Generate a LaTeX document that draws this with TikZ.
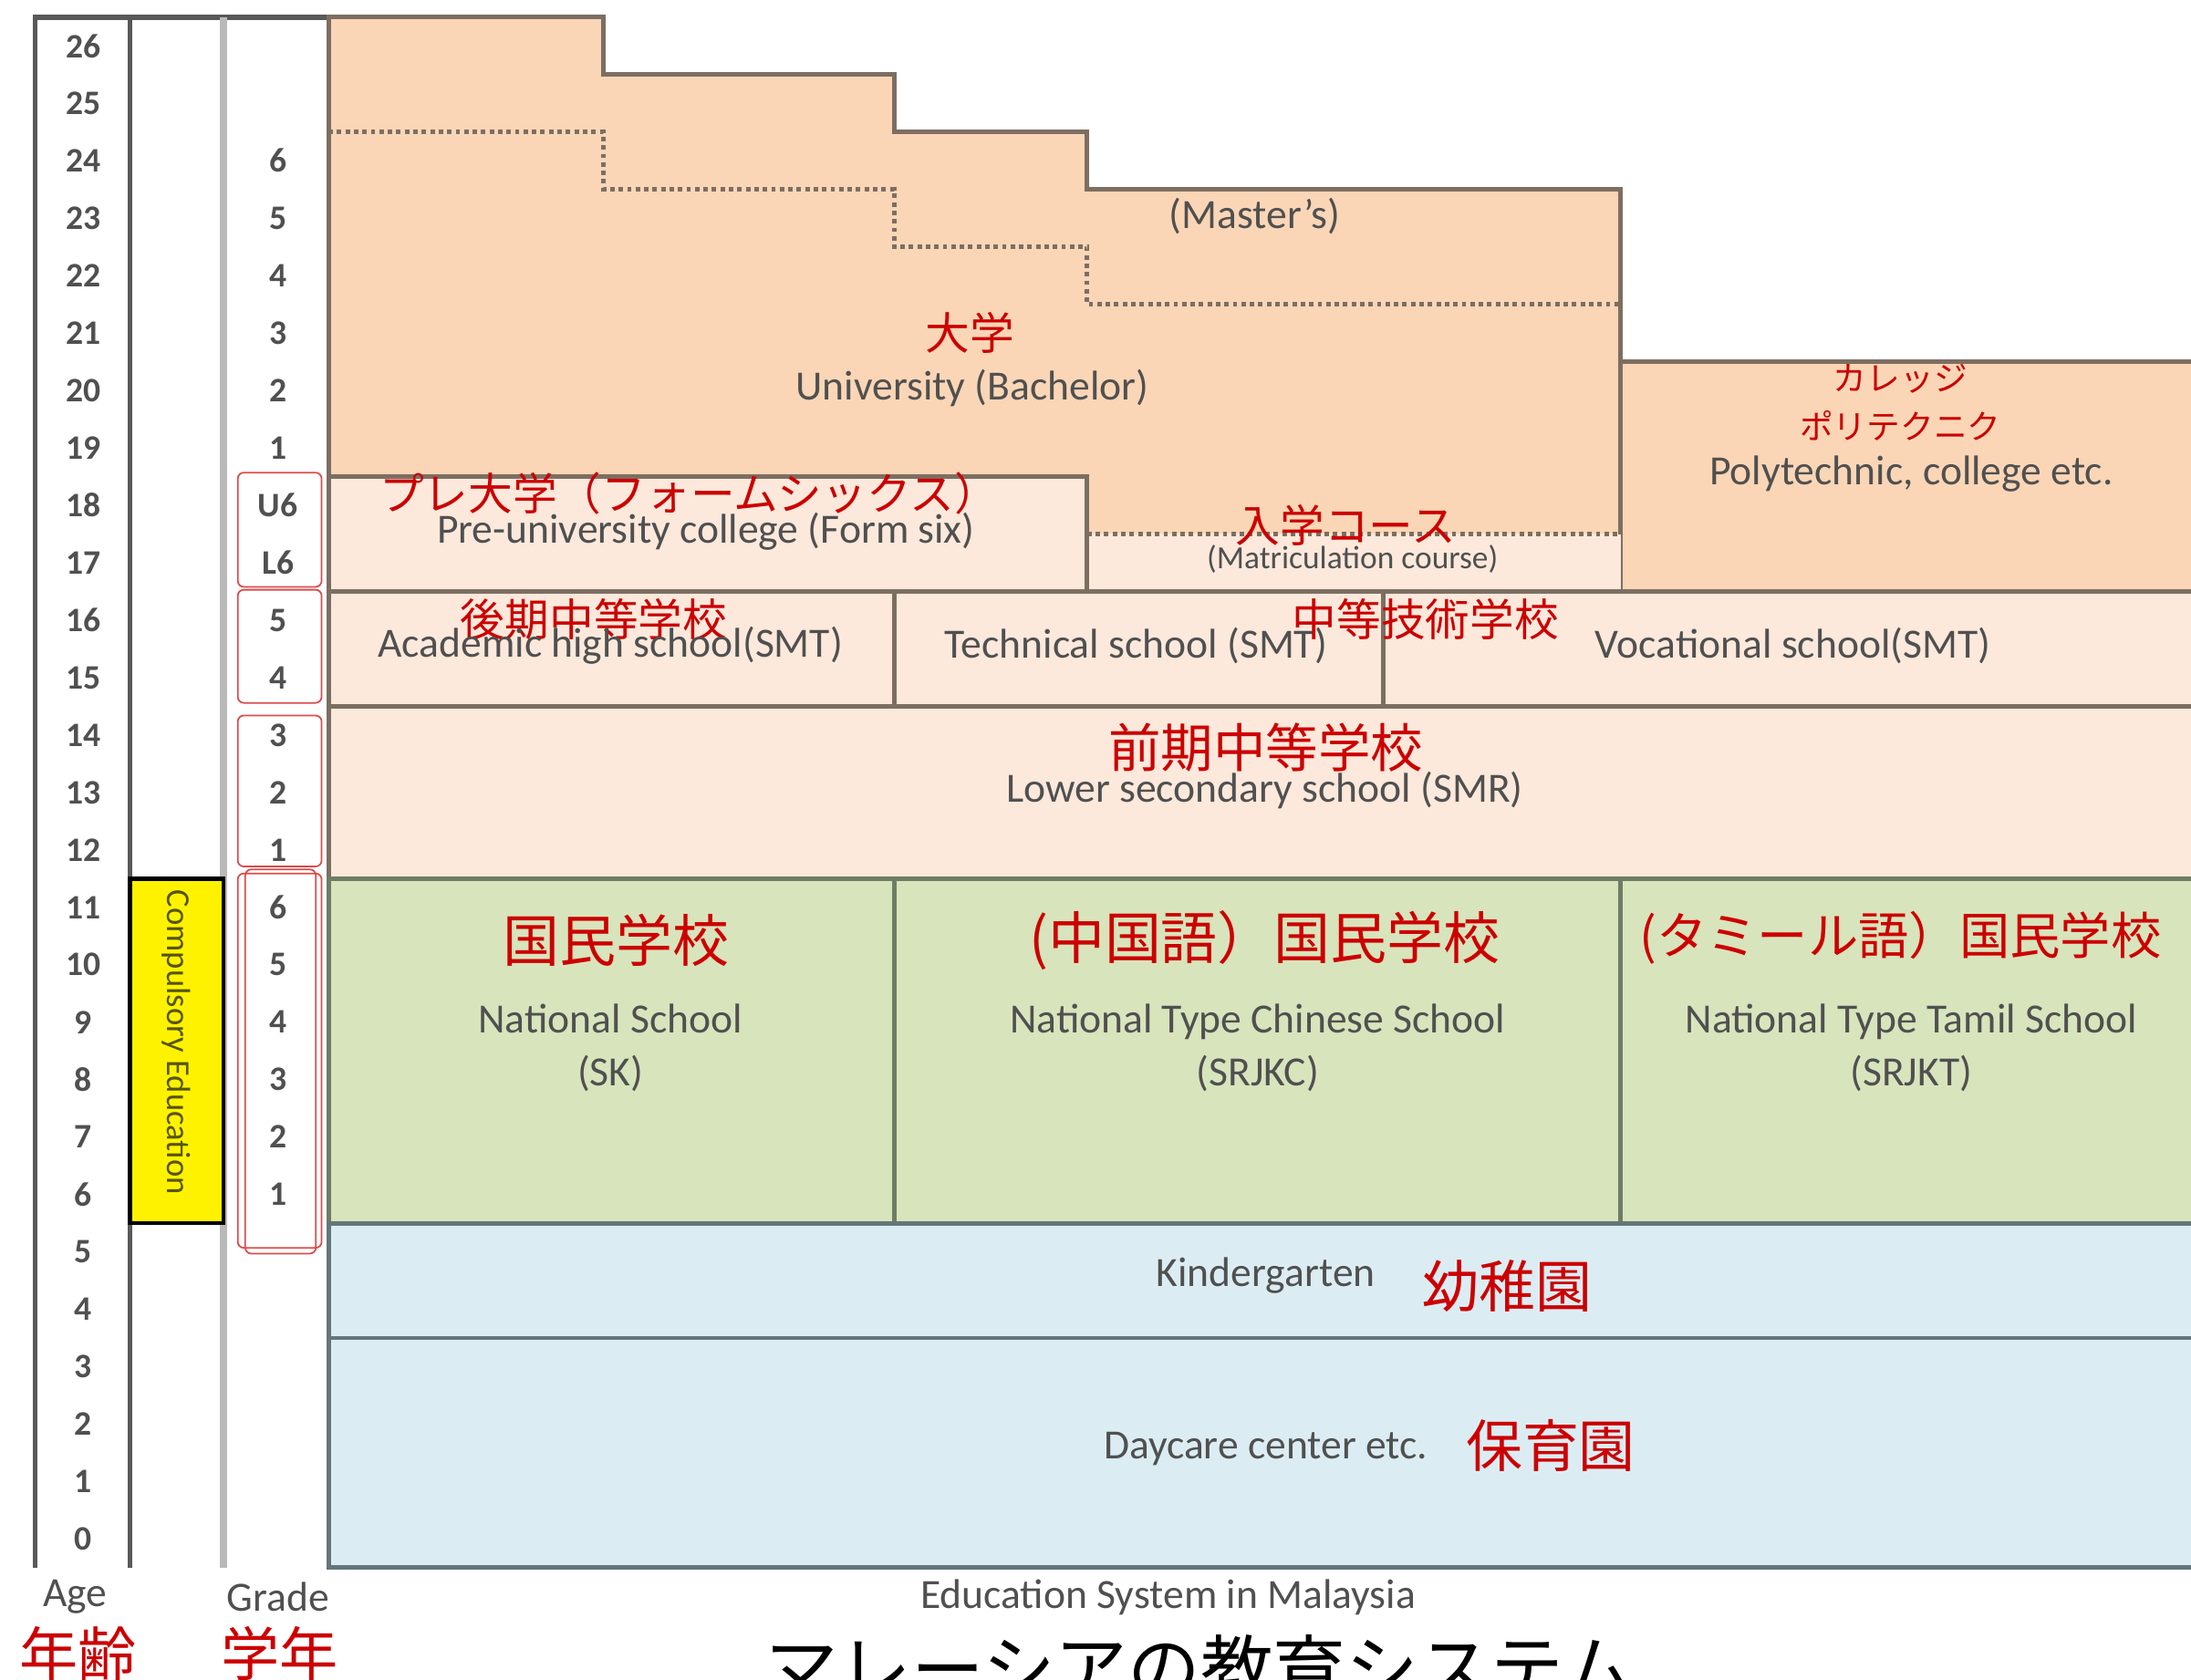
\documentclass[tikz,border=0pt]{standalone}
\usepackage{fontspec}
\setmainfont{Carlito}
\newfontfamily\cjk{Noto Sans CJK JP}
\definecolor{uniorange}{RGB}{250,214,182}
\definecolor{peach}{RGB}{252,233,220}
\definecolor{primgreen}{RGB}{216,228,188}
\definecolor{kidblue}{RGB}{219,237,243}
\definecolor{jpred}{RGB}{204,0,0}
\definecolor{edgebrown}{RGB}{125,110,98}
\definecolor{edgegreen}{RGB}{110,125,100}
\definecolor{edgeblue}{RGB}{100,118,122}
\definecolor{labelgray}{RGB}{80,80,80}
\definecolor{olivetext}{RGB}{85,85,0}

\begin{document}
\begin{tikzpicture}[x=.5cm,y=.5cm,
        box/.style={draw=edgebrown,line width=1.1pt},
        en/.style={text=labelgray,inner sep=1pt,font=\fontsize{10.3}{11}\selectfont},
        jp/.style={text=jpred,inner sep=1pt,font=\cjk\fontsize{11}{12}\selectfont},
        agenum/.style={text=labelgray,font=\bfseries\fontsize{8.5}{9}\selectfont},
        gradebox/.style={draw=jpred!70,line width=.4pt,rounded corners=1.5pt}]
        \useasboundingbox (0,-1.95) rectangle (38.15,27.3);
        \clip (0,-1.95) rectangle (38.15,27.3);

        % side columns
        \draw[gray!70!black,line width=1.2pt] (0.61,0) -- (0.61,27) -- (5.72,27);
        \draw[gray!70!black,line width=1.2pt] (2.26,0) -- (2.26,27);
        \draw[gray!55,line width=1.8pt] (3.89,0) -- (3.89,27);
        \draw[fill=yellow,draw=black,line width=1pt] (2.26,6) rectangle (3.89,12);
        \node[rotate=-90,text=olivetext,font=\fontsize{8.3}{9}\selectfont] (compulsory) at (3.07,9.15) {Compulsory Education};

        % university and polytechnic
        \fill[uniorange] (5.72,19) -- (5.72,27) -- (10.51,27) -- (10.51,26) -- (15.57,26) -- (15.57,25)
            -- (18.93,25) -- (18.93,24) -- (28.22,24) -- (28.22,18) -- (18.93,18) -- (18.93,19) -- cycle;
        \draw[box] (18.93,18) -- (18.93,19) -- (5.72,19) -- (5.72,27) -- (10.51,27) -- (10.51,26) -- (15.57,26)
            -- (15.57,25) -- (18.93,25) -- (18.93,24) -- (28.22,24) -- (28.22,17);
        \draw[box,densely dotted] (5.72,25) -- (10.51,25) -- (10.51,24) -- (15.57,24) -- (15.57,23)
            -- (18.93,23) -- (18.93,22) -- (28.22,22);
        \draw[box,fill=uniorange] (28.22,17) rectangle (38.6,21);

        % pre-university
        \draw[box,fill=peach] (5.72,17) rectangle (18.93,19);
        \fill[peach] (18.93,17) rectangle (28.22,18);
        \draw[box,densely dotted] (18.93,18) -- (28.22,18);
        \draw[box] (18.93,17) -- (18.93,18);

        % secondary
        \draw[box,fill=peach] (5.72,15) rectangle (38.6,17);
        \draw[box] (15.57,15) -- (15.57,17) (24.09,15) -- (24.09,17);
        \draw[box,fill=peach] (5.72,12) rectangle (38.6,15);

        % primary and pre-school
        \draw[box,draw=edgegreen,fill=primgreen] (5.72,6) rectangle (38.6,12);
        \draw[box,draw=edgegreen] (15.57,6) -- (15.57,12) (28.22,6) -- (28.22,12);
        \draw[box,draw=edgeblue,fill=kidblue] (5.72,4) rectangle (38.6,6);
        \draw[box,draw=edgeblue,fill=kidblue] (5.72,0) rectangle (38.6,4);

        % ages and grades
        \foreach \a in {0,...,26}
            \node[agenum] (age\a) at (1.45,\a+0.5) {\a};
        \foreach \a/\g in {6/1,7/2,8/3,9/4,10/5,11/6,12/1,13/2,14/3,15/4,16/5,17/L6,18/U6,19/1,20/2,21/3,22/4,23/5,24/6}
            \node[agenum] (grade\a) at (4.84,\a+0.5) {\g};
        \draw[gradebox] (4.14,5.57) rectangle (5.6,12.09);
        \draw[gradebox] (4.27,5.47) rectangle (5.5,12.16);
        \draw[gradebox] (4.14,12.21) rectangle (5.6,14.84);
        \draw[gradebox] (4.14,15.06) rectangle (5.6,17.03);
        \draw[gradebox] (4.14,17.08) rectangle (5.6,19.07);

        % labels
        \node[en] (masters) at (21.85,23.53) {(Master's)};
        \node[jp] (uni-jp) at (16.89,21.51) {大学};
        \node[en] (uni) at (16.93,20.54) {University (Bachelor)};
        \node[jp,font=\cjk\fontsize{8.3}{9}\selectfont] (college-jp) at (33.09,20.7) {カレッジ};
        \node[jp,font=\cjk\fontsize{8.3}{9}\selectfont] (poly-jp) at (33.09,19.88) {ポリテクニク};
        \node[en] (poly) at (33.28,19.05) {Polytechnic, college etc.};
        \node[jp] (preu-jp) at (12.0,18.7) {プレ大学（フォームシックス）};
        \node[en] (preu) at (12.29,18.05) {Pre-university college (Form six)};
        \node[jp] (matric-jp) at (23.43,18.15) {入学コース};
        \node[en,font=\fontsize{8}{9}\selectfont] (matric) at (23.55,17.57) {(Matriculation course)};
        \node[jp] (upper-jp) at (10.34,16.52) {後期中等学校};
        \node[en] (academic) at (10.63,16.06) {Academic high school(SMT)};
        \node[en] (technical) at (19.78,16.06) {Technical school (SMT)};
        \node[jp] (tech-jp) at (24.82,16.52) {中等技術学校};
        \node[en] (vocational) at (31.22,16.06) {Vocational school(SMT)};
        \node[jp,font=\cjk\fontsize{13}{14}\selectfont] (lower-jp) at (22.04,14.28) {前期中等学校};
        \node[en] (lower) at (22.02,13.53) {Lower secondary school (SMR)};
        \node[jp,font=\cjk\fontsize{14}{15}\selectfont] (sk-jp) at (10.73,10.92) {国民学校};
        \node[en,align=center] (sk) at (10.63,9.05) {National School\\[2pt](SK)};
        \node[jp,font=\cjk\fontsize{14}{15}\selectfont] (srjkc-jp) at (22.02,10.92) {(中国語）国民学校};
        \node[en,align=center] (srjkc) at (21.9,9.05) {National Type Chinese School\\[2pt](SRJKC)};
        \node[jp,font=\cjk\fontsize{12.5}{13}\selectfont] (srjkt-jp) at (33.09,10.97) {(タミール語）国民学校};
        \node[en,align=center] (srjkt) at (33.28,9.05) {National Type Tamil School\\[2pt](SRJKT)};
        \node[en] (kinder) at (22.04,5.09) {Kindergarten};
        \node[jp,font=\cjk\fontsize{14}{15}\selectfont] (kinder-jp) at (26.25,4.91) {幼稚園};
        \node[en] (daycare) at (22.04,2.07) {Daycare center etc.};
        \node[jp,font=\cjk\fontsize{14}{15}\selectfont] (daycare-jp) at (27.0,2.12) {保育園};

        % axis titles
        \node[en] (age) at (1.31,-0.51) {Age};
        \node[en] (grade) at (4.84,-0.51) {Grade};
        \node[jp,font=\cjk\fontsize{14.5}{15}\selectfont] (age-jp) at (1.36,-1.5) {年齢};
        \node[jp,font=\cjk\fontsize{14.5}{15}\selectfont] (grade-jp) at (4.87,-1.5) {学年};
        \node[en] (title) at (20.34,-0.51) {Education System in Malaysia};
        \node[font=\cjk\fontsize{18}{19}\selectfont,inner sep=0pt] (title-jp) at (20.9,-1.75) {マレーシアの教育システム};
        \end{tikzpicture}
\end{document}
